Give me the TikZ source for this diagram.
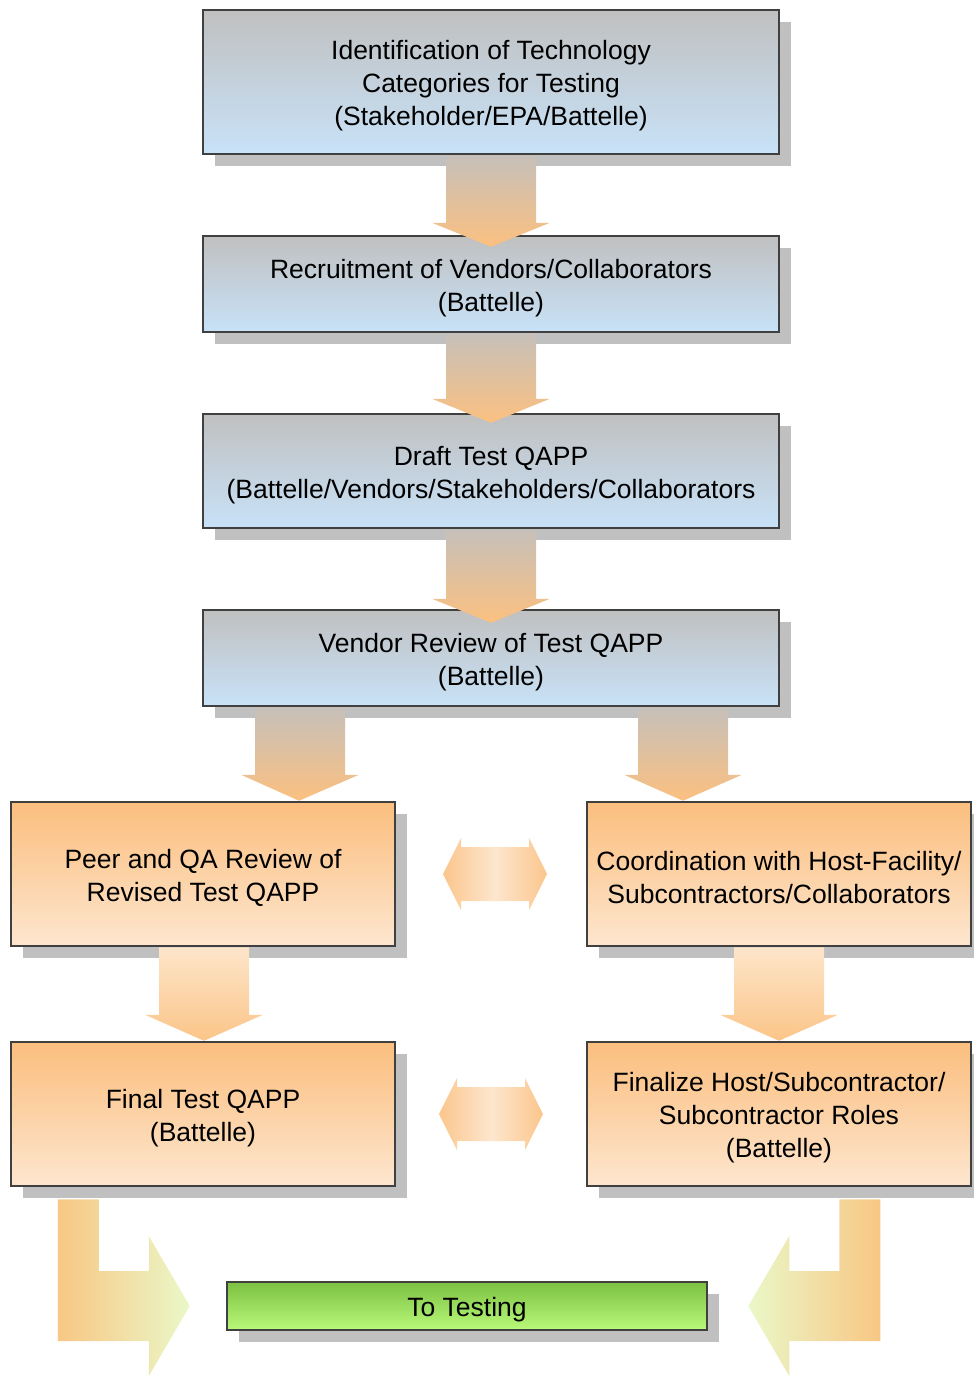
\documentclass[tikz,border=0pt]{standalone}
\usepackage{fontspec}
\setmainfont{Liberation Sans}
\usetikzlibrary{calc,shadows}
\definecolor{bordergray}{HTML}{404040}
\definecolor{shadowgray}{HTML}{C0C0C0}
\definecolor{bluetop}{HTML}{C0C0C0}
\definecolor{bluebot}{HTML}{C8E2F8}
\definecolor{orgtop}{HTML}{FBBE7E}
\definecolor{orgbot}{HTML}{FDE6CE}
\definecolor{grntop}{HTML}{7DC142}
\definecolor{grnbot}{HTML}{B9F97A}
\definecolor{arrgray}{HTML}{C6C0BA}
\definecolor{arrorg}{HTML}{FBC080}
\definecolor{arrlight}{HTML}{FDE5CA}
\definecolor{arrorg2}{HTML}{FBC588}
\definecolor{dbend}{HTML}{FBC68C}
\definecolor{dblight}{HTML}{FDE6CE}
\definecolor{bentorg}{HTML}{F8C784}
\definecolor{bentpale}{HTML}{EAF8C8}
\tikzset{
  boxbase/.style={draw=bordergray, line width=2.5pt, inner sep=0pt,
    drop shadow={shadow xshift=12pt, shadow yshift=-12pt, fill=shadowgray, opacity=1}},
  boxtext/.style={align=center, inner sep=0pt, font=\fontsize{26.5}{33}\selectfont},
  bluebox/.style={boxbase, top color=bluetop, bottom color=bluebot, minimum width=576pt},
  orangebox/.style={boxbase, top color=orgtop, bottom color=orgbot, minimum width=384pt, minimum height=144pt},
  greenbox/.style={boxbase, top color=grntop, bottom color=grnbot, minimum width=480pt, minimum height=48pt},
  bluearrow/.style={top color=arrgray, bottom color=arrorg},
  orangearrow/.style={top color=arrlight, bottom color=arrorg2},
}
% #1 style, #2 name, #3 position, #4 text
\newcommand{\flowbox}[4]{%
  \node[#1] (#2) at #3 {};
  \node[boxtext] (#2-t) at ($(#2)+(0,4)$) {#4};}
\newcommand{\dnarrow}[4][]{%
  \shade[#1] let \p1=(#2), \p2=(#3) in
   (\x1-45pt,\y1) -- (\x1+45pt,\y1) -- (\x1+45pt,\y2+#4) -- (\x1+59pt,\y2+#4)
   -- (\x2,\y2) -- (\x1-59pt,\y2+#4) -- (\x1-45pt,\y2+#4) -- cycle;}
\newcommand{\dbarrow}[1]{%
  \shade[left color=dbend, right color=dbend, middle color=dblight] let \p1=(#1) in
   (\x1-52pt,\y1) -- (\x1-34pt,\y1+36pt) -- (\x1-34pt,\y1+27pt) -- (\x1+34pt,\y1+27pt)
   -- (\x1+34pt,\y1+36pt) -- (\x1+52pt,\y1) -- (\x1+34pt,\y1-36pt) -- (\x1+34pt,\y1-27pt)
   -- (\x1-34pt,\y1-27pt) -- (\x1-34pt,\y1-36pt) -- cycle;}
\begin{document}
\begin{tikzpicture}[x=1pt,y=-1pt]
\useasboundingbox (0,0) rectangle (974,1376);
\clip (0,0) rectangle (974,1376);

\flowbox{bluebox, minimum height=144pt}{b1}{(491,82)}
  {Identification of Technology\\Categories for Testing\\(Stakeholder/EPA/Battelle)}
\flowbox{bluebox, minimum height=96pt}{b2}{(491,284)}
  {Recruitment of Vendors/Collaborators\\(Battelle)}
\flowbox{bluebox, minimum height=114pt}{b3}{(491,471)}
  {Draft Test QAPP\\(Battelle/Vendors/Stakeholders/Collaborators}
\flowbox{bluebox, minimum height=96pt}{b4}{(491,658)}
  {Vendor Review of Test QAPP\\(Battelle)}
\flowbox{orangebox}{p1}{(203,874)}{Peer and QA Review of\\Revised Test QAPP}
\flowbox{orangebox}{c1}{(779,874)}{Coordination with Host-Facility/\\Subcontractors/Collaborators}
\flowbox{orangebox}{f1}{(203,1114)}{Final Test QAPP\\(Battelle)}
\flowbox{orangebox}{f2}{(779,1114)}{Finalize Host/Subcontractor/\\Subcontractor Roles\\(Battelle)}
\flowbox{greenbox}{t}{(467,1306)}{To Testing}

% vertical block arrows
\dnarrow[bluearrow]{b1.south}{$(b2.north)+(0,12)$}{24pt}
\dnarrow[bluearrow]{b2.south}{$(b3.north)+(0,10)$}{24pt}
\dnarrow[bluearrow]{b3.south}{$(b4.north)+(0,14)$}{24pt}
\dnarrow[bluearrow]{$(b4.south)+(-191,0)$}{$(p1.north)+(96,0)$}{26pt}
\dnarrow[bluearrow]{$(b4.south)+(192,0)$}{$(c1.north)+(-96,0)$}{26pt}
\dnarrow[orangearrow]{$(p1.south)+(1,0)$}{$(f1.north)+(1,0)$}{26pt}
\dnarrow[orangearrow]{c1.south}{f2.north}{26pt}

% double arrows
\dbarrow{$($(p1.east)!0.5!(c1.west)$)+(4,0)$}
\dbarrow{$(f1.east)!0.5!(f2.west)$}

% bent arrows to testing
\shade[left color=bentorg, right color=bentpale]
  let \p1=($(f1.south west)+(48,12)$), \p2=($(t.west)+(-36,0)$) in
  (\x1,\y1) -- (\x1+41pt,\y1) -- (\x1+41pt,\y2+35pt) -- (\x2-41pt,\y2+35pt)
  -- (\x2-41pt,\y2+70pt) -- (\x2,\y2) -- (\x2-41pt,\y2-70pt) -- (\x2-41pt,\y2-35pt)
  -- (\x1,\y2-35pt) -- cycle;
\shade[left color=bentpale, right color=bentorg]
  let \p1=($(f2.south east)+(-92,12)$), \p2=($(t.east)+(40,0)$) in
  (\x1,\y1) -- (\x1-41pt,\y1) -- (\x1-41pt,\y2+35pt) -- (\x2+41pt,\y2+35pt)
  -- (\x2+41pt,\y2+70pt) -- (\x2,\y2) -- (\x2+41pt,\y2-70pt) -- (\x2+41pt,\y2-35pt)
  -- (\x1,\y2-35pt) -- cycle;
\end{tikzpicture}
\end{document}
